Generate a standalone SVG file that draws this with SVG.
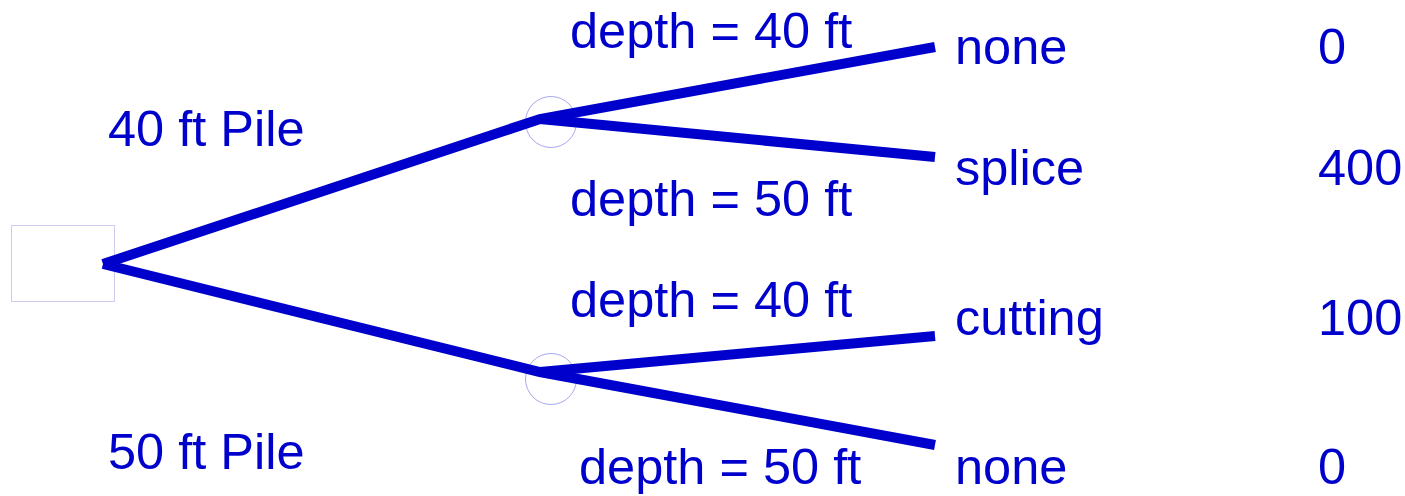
<svg xmlns="http://www.w3.org/2000/svg" width="1405" height="496" viewBox="0 0 1405 496">
<style>
text{font-family:"Liberation Sans",Arial,sans-serif;font-size:50.5px;fill:#0000cc}
.br{stroke:#0000cc;stroke-width:10;fill:none;stroke-linecap:butt}
</style>
<rect width="1405" height="496" fill="#fff"/>
<g id="decision"><rect x="11.5" y="225.5" width="103" height="76" fill="none" stroke="#ccccf0" stroke-width="1"/></g>
<g id="chance1"><circle cx="551" cy="122" r="25.5" fill="none" stroke="#a8a8f0" stroke-width="1"/></g>
<g id="chance2"><circle cx="551" cy="379" r="25.5" fill="none" stroke="#a8a8f0" stroke-width="1"/></g>
<g id="connectors">
<path class="br" d="M103 264 L540 119 L935 47"/>
<path class="br" d="M540 119 L935 157"/>
<path class="br" d="M103 264 L540 372 L935 445"/>
<path class="br" d="M540 372 L935 336"/>
</g>
<g id="labels">
<text x="108" y="146">40 ft Pile</text>
<text x="108" y="469">50 ft Pile</text>
<text x="570" y="48">depth = 40 ft</text>
<text x="570" y="216">depth = 50 ft</text>
<text x="570" y="317">depth = 40 ft</text>
<text x="579" y="484">depth = 50 ft</text>
</g>
<g id="outcomes">
<text x="955" y="64">none</text>
<text x="955" y="185">splice</text>
<text x="955" y="335">cutting</text>
<text x="955" y="484">none</text>
<text x="1318" y="64">0</text>
<text x="1318" y="185">400</text>
<text x="1318" y="335">100</text>
<text x="1318" y="484">0</text>
</g>
</svg>
